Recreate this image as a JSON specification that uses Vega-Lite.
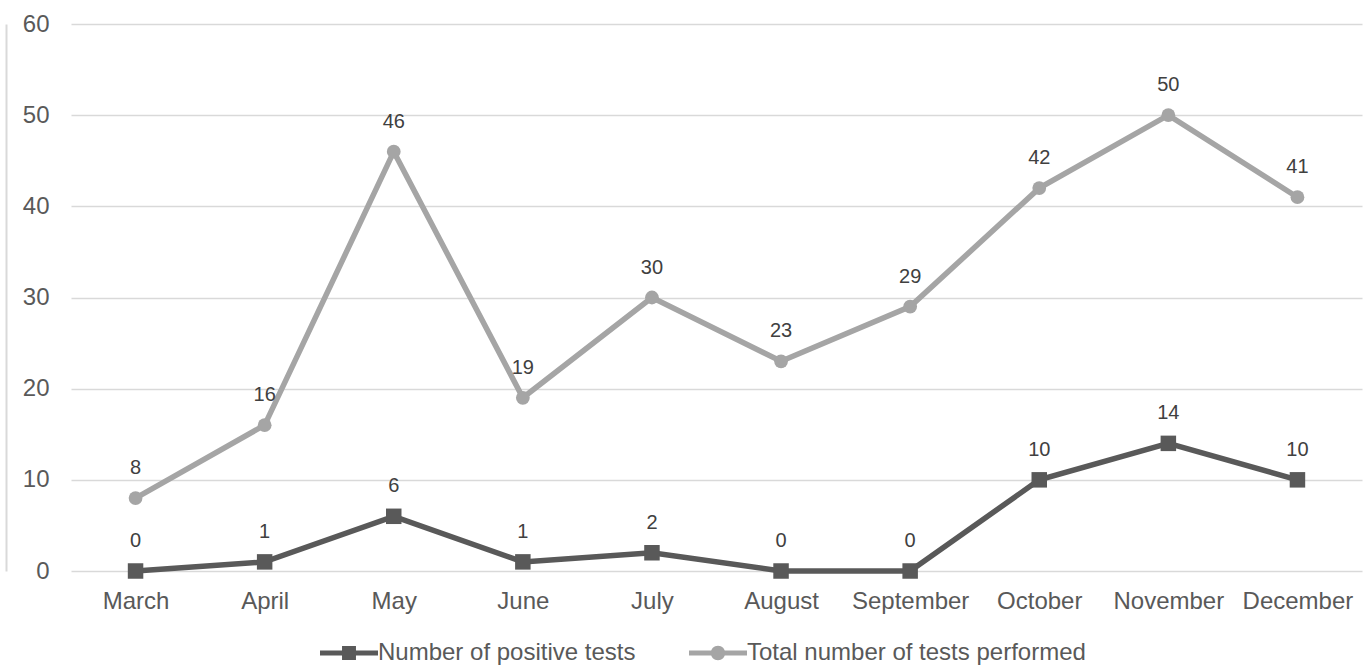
{
  "$schema": "https://vega.github.io/schema/vega-lite/v6.json",
  "width": 1291,
  "height": 547,
  "autosize": {"type": "none"},
  "padding": {"left": 71, "top": 24, "right": 7, "bottom": 100},
  "background": "white",
  "config": {
    "view": {"stroke": null},
    "font": "Liberation Sans"
  },
  "data": {
    "values": [
      {"month": "March", "series": "Number of positive tests", "value": 0},
      {"month": "April", "series": "Number of positive tests", "value": 1},
      {"month": "May", "series": "Number of positive tests", "value": 6},
      {"month": "June", "series": "Number of positive tests", "value": 1},
      {"month": "July", "series": "Number of positive tests", "value": 2},
      {"month": "August", "series": "Number of positive tests", "value": 0},
      {"month": "September", "series": "Number of positive tests", "value": 0},
      {"month": "October", "series": "Number of positive tests", "value": 10},
      {"month": "November", "series": "Number of positive tests", "value": 14},
      {"month": "December", "series": "Number of positive tests", "value": 10},
      {"month": "March", "series": "Total number of tests performed", "value": 8},
      {"month": "April", "series": "Total number of tests performed", "value": 16},
      {"month": "May", "series": "Total number of tests performed", "value": 46},
      {"month": "June", "series": "Total number of tests performed", "value": 19},
      {"month": "July", "series": "Total number of tests performed", "value": 30},
      {"month": "August", "series": "Total number of tests performed", "value": 23},
      {"month": "September", "series": "Total number of tests performed", "value": 29},
      {"month": "October", "series": "Total number of tests performed", "value": 42},
      {"month": "November", "series": "Total number of tests performed", "value": 50},
      {"month": "December", "series": "Total number of tests performed", "value": 41}
    ]
  },
  "encoding": {
    "x": {
      "field": "month",
      "type": "nominal",
      "sort": null,
      "scale": {"type": "point", "padding": 0.5},
      "axis": {
        "title": null,
        "labelAngle": 0,
        "domain": false,
        "ticks": false,
        "grid": false,
        "labelFont": "Liberation Sans",
        "labelFontSize": 24,
        "labelColor": "#595959",
        "labelPadding": 18
      }
    },
    "y": {
      "field": "value",
      "type": "quantitative",
      "scale": {"domain": [0, 60], "nice": false},
      "axis": {
        "title": null,
        "values": [0, 10, 20, 30, 40, 50, 60],
        "domain": true,
        "domainColor": "#D9D9D9",
        "domainWidth": 2,
        "offset": 65,
        "ticks": false,
        "gridColor": "#D9D9D9",
        "gridWidth": 1.5,
        "labelFont": "Liberation Sans",
        "labelFontSize": 24,
        "labelColor": "#595959",
        "labelPadding": -43
      }
    },
    "color": {
      "field": "series",
      "type": "nominal",
      "scale": {
        "domain": ["Number of positive tests", "Total number of tests performed"],
        "range": ["#595959", "#A5A5A5"]
      },
      "legend": {
        "title": null,
        "orient": "none",
        "legendX": 249,
        "legendY": 600,
        "direction": "horizontal",
        "symbolSize": 3364,
        "symbolType": "square",
        "symbolStrokeWidth": 0,
        "labelFont": "Liberation Sans",
        "labelFontSize": 24,
        "labelColor": "#595959",
        "labelOffset": 0,
        "labelLimit": 500,
        "columnPadding": 53,
        "encode": {
          "symbols": {
            "update": {
              "shape": {
                "signal": "datum.value === 'Number of positive tests' ? 'M-1,-0.086 L-0.24,-0.086 L-0.24,-0.24 L0.24,-0.24 L0.24,-0.086 L1,-0.086 L1,0.086 L0.24,0.086 L0.24,0.24 L-0.24,0.24 L-0.24,0.086 L-1,0.086 Z' : 'M-1,-0.086 L-0.2,-0.086 L-0.2,0.086 L-1,0.086 Z M0.2,-0.086 L1,-0.086 L1,0.086 L0.2,0.086 Z M-0.25,0 A0.25,0.25 0 1,1 0.25,0 A0.25,0.25 0 1,1 -0.25,0 Z'"
              },
              "size": {"value": 3364},
              "fill": {
                "signal": "datum.value === 'Number of positive tests' ? '#595959' : '#A5A5A5'"
              },
              "stroke": {"value": "transparent"},
              "strokeWidth": {"value": 0},
              "opacity": {"value": 1}
            }
          }
        }
      }
    }
  },
  "layer": [
    {
      "mark": {"type": "line", "strokeWidth": 5.5}
    },
    {
      "transform": [{"filter": "datum.series === 'Number of positive tests'"}],
      "mark": {"type": "point", "filled": true, "opacity": 1, "shape": "square", "size": 240}
    },
    {
      "transform": [{"filter": "datum.series === 'Total number of tests performed'"}],
      "mark": {"type": "point", "filled": true, "opacity": 1, "shape": "circle", "size": 190}
    },
    {
      "mark": {
        "type": "text",
        "dy": -30,
        "baseline": "middle",
        "font": "Liberation Sans",
        "fontSize": 20,
        "color": "#404040"
      },
      "encoding": {
        "text": {"field": "value", "type": "quantitative"},
        "color": {"value": "#404040"}
      }
    }
  ]
}
